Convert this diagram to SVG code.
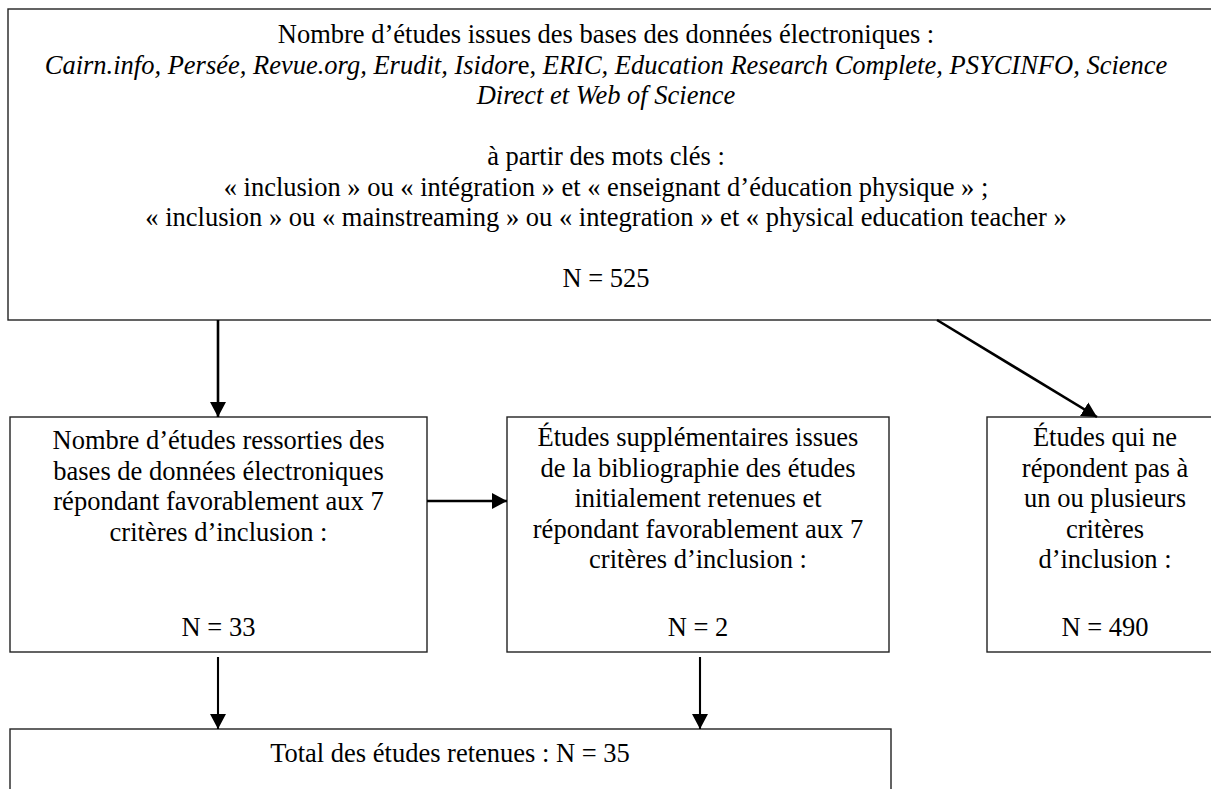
<svg xmlns="http://www.w3.org/2000/svg" width="1211" height="789" viewBox="0 0 1211 789">
<style>
.box{fill:#fff;stroke:#222;stroke-width:1.4}
.t{font-family:"Liberation Serif","Times New Roman",serif;font-size:26.5px;fill:#000;text-anchor:middle}
.i{font-style:italic}
.c{stroke:#000;stroke-width:2.6;fill:none}
.c2{stroke:#000;stroke-width:2.1;fill:none}
</style>
<defs>
<marker id="a" viewBox="0 0 15 16" refX="15" refY="8" markerWidth="15" markerHeight="16" markerUnits="userSpaceOnUse" orient="auto">
<path d="M0,0 L15,8 L0,16 z" fill="#000"/>
</marker>
</defs>
<rect width="1211" height="789" fill="#fff"/>
<g id="n-top">
<rect class="box" x="8" y="9" width="1215" height="311"/>
<text class="t" x="606" y="43">Nombre d’études issues des bases des données électroniques :</text>
<text class="t" x="606" y="73.5"><tspan class="i">Cairn.info, Persée, Revue.org, Erudit, Isidor</tspan>e, <tspan class="i">ERIC, Education Research Complete, PSYCINFO, Science</tspan></text>
<text class="t i" x="606" y="104">Direct et Web of Science</text>
<text class="t" x="606" y="165">à partir des mots clés :</text>
<text class="t" x="606" y="195.5">« inclusion » ou « intégration » et « enseignant d’éducation physique » ;</text>
<text class="t" x="606" y="226">« inclusion » ou « mainstreaming » ou « integration » et « physical education teacher »</text>
<text class="t" x="606" y="287">N = 525</text>
</g>
<g id="n-left">
<rect class="box" x="10" y="417" width="417" height="235"/>
<text class="t" x="218.5" y="449">Nombre d’études ressorties des</text>
<text class="t" x="218.5" y="479.5">bases de données électroniques</text>
<text class="t" x="218.5" y="510">répondant favorablement aux 7</text>
<text class="t" x="218.5" y="540.5">critères d’inclusion :</text>
<text class="t" x="218.5" y="636">N = 33</text>
</g>
<g id="n-mid">
<rect class="box" x="507" y="417" width="382" height="235"/>
<text class="t" x="698" y="446">Études supplémentaires issues</text>
<text class="t" x="698" y="476.5">de la bibliographie des études</text>
<text class="t" x="698" y="507">initialement retenues et</text>
<text class="t" x="698" y="537.5">répondant favorablement aux 7</text>
<text class="t" x="698" y="568">critères d’inclusion :</text>
<text class="t" x="698" y="636">N = 2</text>
</g>
<g id="n-right">
<rect class="box" x="987" y="417" width="240" height="235"/>
<text class="t" x="1105" y="446">Études qui ne</text>
<text class="t" x="1105" y="476.5">répondent pas à</text>
<text class="t" x="1105" y="507">un ou plusieurs</text>
<text class="t" x="1105" y="537.5">critères</text>
<text class="t" x="1105" y="568">d’inclusion :</text>
<text class="t" x="1105" y="636">N = 490</text>
</g>
<g id="n-bottom">
<rect class="box" x="10" y="729" width="881" height="80"/>
<text class="t" x="450" y="762">Total des études retenues : N = 35</text>
</g>
<g id="connectors">
<line class="c" x1="218" y1="320" x2="218" y2="417" marker-end="url(#a)"/>
<line class="c" x1="937" y1="320" x2="1097" y2="417" marker-end="url(#a)"/>
<line class="c" x1="427" y1="501" x2="507" y2="501" marker-end="url(#a)"/>
<line class="c2" x1="218" y1="657" x2="218" y2="729" marker-end="url(#a)"/>
<line class="c2" x1="700" y1="657" x2="700" y2="729" marker-end="url(#a)"/>
</g>
</svg>
